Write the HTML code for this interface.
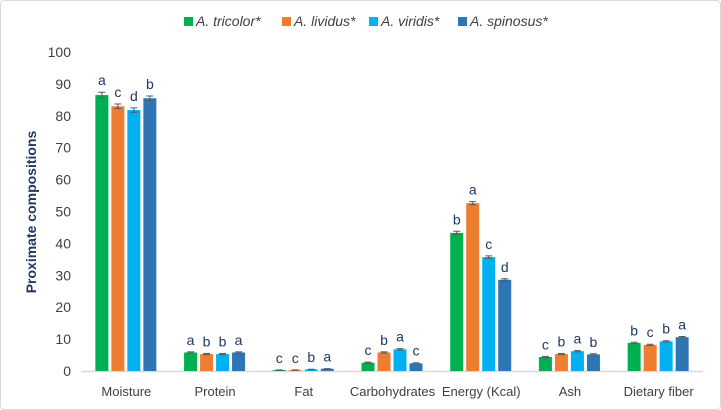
<!DOCTYPE html>
<html><head><meta charset="utf-8"><style>
body{margin:0;background:#fff;}
svg{display:block;font-family:"Liberation Sans",sans-serif;}
</style></head><body>
<svg id="c" width="721" height="410" xmlns="http://www.w3.org/2000/svg">
<rect x="0.5" y="0.5" width="720" height="409" rx="4" fill="#fff" stroke="#d9d9d9"/>
<g id="g"></g>
</svg>
<script>
const categories=["Moisture","Protein","Fat","Carbohydrates","Energy (Kcal)","Ash","Dietary fiber"];
const series=["A. tricolor*","A. lividus*","A. viridis*","A. spinosus*"];
const colors=["#00b050","#ed7d31","#00b0f0","#2e75b6"];
const tricolor=[86.5,5.8,0.3,2.6,43.3,4.4,8.8];
const lividus=[83,5.3,0.3,5.8,52.6,5.3,8.2];
const viridis=[81.8,5.3,0.5,6.8,35.7,6.2,9.3];
const spinosus=[85.5,5.8,0.7,2.4,28.6,5.2,10.6];
const letters=[["a","a","c","c","b","c","b"],["c","b","c","b","a","b","c"],["d","b","b","a","c","a","b"],["b","a","a","c","d","b","a"]];
const errs=[[0.9,0.2,0.05,0.2,0.5,0.2,0.2],[0.7,0.2,0.05,0.2,0.5,0.2,0.2],[0.7,0.2,0.05,0.2,0.4,0.2,0.2],[0.7,0.2,0.05,0.2,0.3,0.2,0.2]];
const yTicks=[0,10,20,30,40,50,60,70,80,90,100];
const vals=[tricolor,lividus,viridis,spinosus];
const NS="http://www.w3.org/2000/svg",g=document.getElementById("g");
const x0=82,x1=703,yb=371,yt=52;
const y=v=>yb-(v/100)*(yb-yt);
const step=(x1-x0)/categories.length;
const cx=i=>x0+step*(i+0.5);
function mk(t,a,txt){const e=document.createElementNS(NS,t);for(const k in a)e.setAttribute(k,a[k]);if(txt!=null)e.textContent=txt;g.appendChild(e);return e;}
yTicks.forEach(t=>{
 const e=mk("text",{x:71,y:y(t)+5,"text-anchor":"end","font-size":14,fill:"#404040"},t);
 
 
});
const ax=mk("line",{x1:x0,x2:x1,y1:yb+0.5,y2:yb+0.5,stroke:"#d9d9d9","stroke-width":1.5});


const yt2=mk("text",{x:0,y:0,transform:"translate(36,212) rotate(-90)","text-anchor":"middle","font-size":14,"font-weight":"bold",fill:"#1f3864"},"Proximate compositions");


categories.forEach((c,i)=>{
 const l=mk("text",{x:cx(i),y:396,"text-anchor":"middle","font-size":13,fill:"#404040"},c);
 
 
 vals.forEach((s,j)=>{
  const bx=cx(i)-31+j*16,w=13,v=s[i];
  const r=mk("rect",{x:bx,y:y(v),width:w,height:yb-y(v),fill:colors[j]});
  
  
  const e=errs[j][i],m=bx+w/2;
  const eb=mk("path",{d:`M${m},${y(v+e)}V${y(v-e)}M${m-3.5},${y(v+e)}H${m+3.5}M${m-3.5},${y(v-e)}H${m+3.5}`,stroke:"#595959","stroke-width":1,fill:"none"});
  
  
  const lt=mk("text",{x:m,y:y(v+e)-7,"text-anchor":"middle","font-size":14,fill:"#1f3864"},letters[j][i]);
  
  
 });
});
const lx=[184,282,369,458];
series.forEach((s,j)=>{
 const r=mk("rect",{x:lx[j],y:17,width:9,height:9,fill:colors[j]});
 
 
 const t=mk("text",{x:lx[j]+12,y:26,"font-size":14,"font-style":"italic",fill:"#404040"},s);
 
 
});
</script>
</body></html>
